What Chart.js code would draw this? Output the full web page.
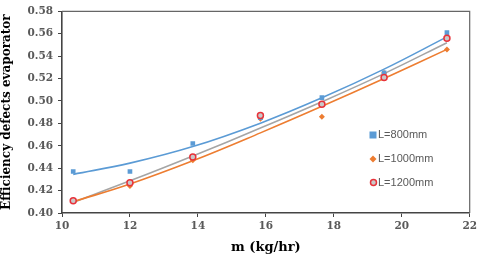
<!DOCTYPE html>
<html>
<head>
<meta charset="utf-8">
<script src="https://cdn.jsdelivr.net/npm/chart.js@4"></script>
<style>
  html, body { margin: 0; padding: 0; background: #fff; }
  #wrap { position: relative; width: 480px; height: 255px; }
  #legend { position: absolute; left: 369px; top: 126px; font: 11px "Liberation Sans", Arial, sans-serif; color: #595959; }
  #legend div { height: 24px; line-height: 16px; white-space: nowrap; }
  #legend span.mk { display: inline-block; width: 9px; margin-right: 0; vertical-align: middle; }
</style>
</head>
<body>
<div id="wrap">
  <canvas id="myChart" width="480" height="255"></canvas>
  <div id="legend"></div>
</div>
<script>
// mass flow (kg/hr)
const flow = [10.33, 12.0, 13.85, 15.84, 17.65, 19.48, 21.33];

// measured points
const eff800 = [0.437, 0.437, 0.462, 0.485, 0.503, 0.525, 0.561];
const eff1000 = [0.411, 0.424, 0.447, 0.484, 0.486, 0.525, 0.546];
const eff1200 = [0.411, 0.427, 0.450, 0.487, 0.497, 0.521, 0.556];

// trendlines as they appear on the picture
const trend800 = [0.4345, 0.4445, 0.4593, 0.4802, 0.5028, 0.5284, 0.5572];
const trend1000 = [0.4100, 0.4259, 0.4466, 0.4715, 0.4952, 0.5201, 0.5460];
const trend1200 = [0.4095, 0.4287, 0.4509, 0.4758, 0.4993, 0.5244, 0.5520];

const labels = ['L=800mm', 'L=1000mm', 'L=1200mm'];

const BLUE = '#5B9BD5';
const ORANGE = '#ED7D31';
const RED = '#E8323A';
const GRAY = '#A5A5A5';

function pts(ys){
    return flow.map((x, i) => ({x: x, y: ys[i]}));
}

function trendSet(ys, color){
    return {
        type: 'line',
        data: pts(ys),
        borderColor: color,
        borderWidth: 1.6,
        pointRadius: 0,
        fill: false,
        tension: 0.4,
        order: 2
    };
}

// top + right frame of the plot
const frame = {
    id: 'frame',
    afterDraw(chart){
        const a = chart.chartArea;
        const c = chart.ctx;
        c.save();
        c.strokeStyle = '#666';
        c.lineWidth = 1.2;
        c.beginPath();
        c.moveTo(a.left, a.top);
        c.lineTo(a.right, a.top);
        c.lineTo(a.right, a.bottom);
        c.stroke();
        c.restore();
    }
};

const tickFont = {family: '"DejaVu Serif", serif', size: 10.5, weight: 'bold'};

const config = {
    type: 'scatter',
    data: {
        datasets: [
            trendSet(trend800, BLUE),
            trendSet(trend1000, ORANGE),
            trendSet(trend1200, GRAY),
            {
                label: labels[0],
                data: pts(eff800),
                pointStyle: 'rect',
                pointRadius: 3.3,
                backgroundColor: BLUE,
                borderColor: BLUE,
                borderWidth: 0,
                order: 1
            },
            {
                label: labels[1],
                data: pts(eff1000),
                pointStyle: 'rectRot',
                pointRadius: 3,
                backgroundColor: ORANGE,
                borderColor: ORANGE,
                borderWidth: 0,
                order: 1
            },
            {
                label: labels[2],
                data: pts(eff1200),
                pointStyle: 'circle',
                pointRadius: 3,
                backgroundColor: '#C9C9C9',
                borderColor: RED,
                borderWidth: 1.5,
                order: 0
            }
        ]
    },
    options: {
        responsive: false,
        animation: false,
        layout: {padding: {left: 0, right: 4, top: 2, bottom: 0}},
        plugins: {
            legend: {display: false},
            tooltip: {enabled: false}
        },
        scales: {
            x: {
                type: 'linear',
                min: 10,
                max: 22,
                ticks: {stepSize: 2, color: '#595959', font: tickFont, padding: 3, maxRotation: 0},
                grid: {display: true, drawOnChartArea: false, drawTicks: true, tickLength: 4, color: '#444'},
                border: {display: true, color: '#444', width: 1.6},
                title: {
                    display: true,
                    text: 'm (kg/hr)',
                    color: '#000',
                    font: {family: '"DejaVu Serif", serif', size: 13, weight: 'bold'},
                    padding: {top: 1, bottom: 0}
                },
                afterFit(s){ s.height = 42; }
            },
            y: {
                min: 0.4,
                max: 0.58,
                ticks: {stepSize: 0.02, color: '#595959', font: tickFont, padding: 5},
                grid: {display: true, drawOnChartArea: false, drawTicks: true, tickLength: 4, color: '#444'},
                border: {display: true, color: '#444', width: 1.6},
                title: {
                    display: true,
                    text: 'Efficiency defects evaporator',
                    color: '#000',
                    font: {family: '"DejaVu Serif", serif', size: 12, weight: 'bold'},
                    padding: {top: 0, bottom: 2}
                },
                afterFit(s){ s.width = 62; }
            }
        }
    },
    plugins: [frame]
};

const chart = new Chart(document.getElementById('myChart'), config);

// legend inside the plot
const lg = document.getElementById('legend');
const marks = [
    '<svg width="8" height="8"><rect x="0.5" y="0.5" width="7" height="7" fill="' + BLUE + '"/></svg>',
    '<svg width="8" height="8"><polygon points="4,0.5 7.5,4 4,7.5 0.5,4" fill="' + ORANGE + '"/></svg>',
    '<svg width="9" height="9"><circle cx="4.5" cy="4.5" r="3" fill="#C9C9C9" stroke="' + RED + '" stroke-width="1.5"/></svg>'
];
labels.forEach((t, i) => {
    const d = document.createElement('div');
    d.innerHTML = '<span class="mk">' + marks[i] + '</span>' + t;
    lg.appendChild(d);
});
</script>
</body>
</html>
